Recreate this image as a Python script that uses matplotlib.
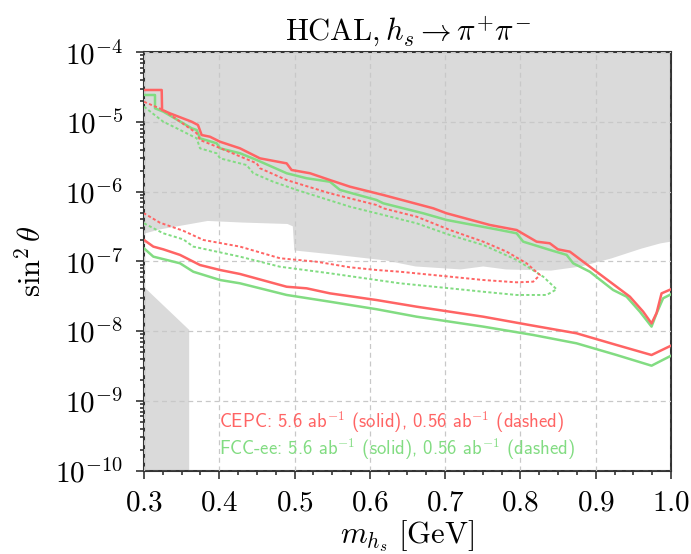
import matplotlib
matplotlib.use("Agg")
import matplotlib.pyplot as plt
from matplotlib.ticker import MultipleLocator, LogLocator, NullFormatter

plt.rcParams['mathtext.fontset'] = 'cm'
plt.rcParams['font.family'] = 'serif'
plt.rcParams['font.serif'] = ['cmr10']
plt.rcParams['axes.formatter.use_mathtext'] = True

RED = '#ff6464'
GREEN = '#82dc82'
GREY = '#dadada'

# excluded regions
excl_top_m = [0.3, 0.32, 0.384, 0.43, 0.49, 0.497, 0.499, 0.55, 0.62, 0.66, 0.72, 0.75,
              0.78, 0.84, 0.88, 0.92, 0.96, 0.985, 1.0]
excl_top_s = [2.55e-7, 2.92e-7, 3.87e-7, 3.67e-7, 3.5e-7, 3.24e-7, 1.46e-7, 1.28e-7, 1.05e-7,
              8.6e-8, 7.8e-8, 8.6e-8, 7.8e-8, 7.5e-8, 8.6e-8, 1.12e-7, 1.55e-7, 1.84e-7, 1.96e-7]
excl_low_m = [0.3, 0.36, 0.36, 0.3]
excl_low_s = [4.3e-8, 1.04e-8, 1e-10, 1e-10]

# CEPC 5.6 ab^-1 (solid), upper and lower edges
cepc_up_m = [0.3, 0.3235, 0.324, 0.3345, 0.3633, 0.3717, 0.3766, 0.3876, 0.401, 0.4275, 0.454,
             0.4895, 0.496, 0.5205, 0.547, 0.5736, 0.6178, 0.6842, 0.702, 0.7595, 0.795, 0.8215,
             0.839, 0.8498, 0.8657, 0.8834, 0.91, 0.9278, 0.9454, 0.9631, 0.9742, 0.9809, 0.9875, 1.0]
cepc_up_s = [2.88e-5, 2.88e-5, 1.49e-5, 1.33e-5, 1.01e-5, 9.06e-6, 6.5e-6, 6.15e-6, 5.21e-6, 4.19e-6,
             3.01e-6, 2.55e-6, 2.05e-6, 1.84e-6, 1.47e-6, 1.18e-6, 8.97e-7, 5.78e-7, 4.9e-7, 3.33e-7,
             2.82e-7, 1.92e-7, 1.82e-7, 1.49e-7, 1.38e-7, 9.9e-8, 6.03e-8, 4.33e-8, 3.12e-8, 1.9e-8,
             1.29e-8, 1.82e-8, 3.48e-8, 3.98e-8]
cepc_lo_m = [0.3, 0.3124, 0.3256, 0.3478, 0.3744, 0.401, 0.4275, 0.4895, 0.516, 0.547, 0.609,
             0.6622, 0.7506, 0.8126, 0.8746, 0.9278, 0.9742, 1.0]
cepc_lo_s = [2.03e-7, 1.63e-7, 1.49e-7, 1.24e-7, 8.87e-8, 7.53e-8, 6.6e-8, 4.33e-8, 4.11e-8, 3.48e-8,
             2.79e-8, 2.24e-8, 1.61e-8, 1.22e-8, 9.3e-9, 6.32e-9, 4.54e-9, 6.18e-9]

# FCC-ee 5.6 ab^-1 (solid)
fcc_up_m = [0.3, 0.3146, 0.3146, 0.3256, 0.3633, 0.37, 0.3744, 0.3965, 0.401, 0.4275, 0.4497,
            0.4895, 0.516, 0.547, 0.5603, 0.609, 0.6178, 0.671, 0.702, 0.7728, 0.795, 0.8037,
            0.8392, 0.8614, 0.8701, 0.8923, 0.9232, 0.941, 0.9587, 0.9742, 0.9809, 0.9896, 1.0]
fcc_up_s = [2.44e-5, 2.44e-5, 1.57e-5, 1.41e-5, 8.13e-6, 7.68e-6, 5.83e-6, 4.95e-6, 4.19e-6, 3.56e-6,
            2.85e-6, 1.84e-6, 1.56e-6, 1.39e-6, 1.06e-6, 7.6e-7, 6.82e-7, 4.9e-7, 3.93e-7, 2.82e-7,
            2.53e-7, 1.92e-7, 1.46e-7, 1.24e-7, 9.4e-8, 7.1e-8, 3.89e-8, 3.12e-8, 1.9e-8, 1.16e-8,
            1.8e-8, 2.96e-8, 3.37e-8]
fcc_lo_m = [0.3, 0.3124, 0.3478, 0.3655, 0.401, 0.4275, 0.4895, 0.547, 0.609, 0.6622, 0.7506,
            0.817, 0.8746, 0.9278, 0.9742, 1.0]
fcc_lo_s = [1.54e-7, 1.17e-7, 9.4e-8, 7.11e-8, 5.41e-8, 4.85e-8, 3.3e-8, 2.64e-8, 2.06e-8, 1.61e-8,
            1.16e-8, 8.8e-9, 6.68e-9, 4.54e-9, 3.19e-9, 4.43e-9]

# CEPC 0.56 ab^-1 (dashed), closed contour
cepc_d_m = [0.3, 0.3256, 0.37, 0.3744, 0.3965, 0.4497, 0.454, 0.4895, 0.547, 0.609, 0.6178, 0.6622,
            0.7064, 0.7506, 0.7817, 0.8082, 0.8259, 0.817, 0.795, 0.7506, 0.7064, 0.64, 0.609,
            0.5736, 0.5293, 0.4806, 0.4275, 0.3788, 0.3522, 0.3212, 0.3]
cepc_d_s = [1.95e-5, 1.49e-5, 6.89e-6, 5.52e-6, 4.43e-6, 2.55e-6, 2.17e-6, 1.47e-6, 9.48e-7, 6.44e-7,
            5.78e-7, 4.38e-7, 2.82e-7, 1.92e-7, 1.38e-7, 9.4e-8, 6.38e-8, 5.12e-8, 5.01e-8, 5.41e-8,
            6.04e-8, 7.11e-8, 7.53e-8, 8.23e-8, 9.9e-8, 1.11e-7, 1.63e-7, 2.03e-7, 2.75e-7, 3.59e-7,
            4.9e-7]

# FCC-ee 0.56 ab^-1 (dashed)
fcc_d_m = [0.3, 0.3256, 0.3434, 0.37, 0.3744, 0.3965, 0.401, 0.4364, 0.4452, 0.4717, 0.5028, 0.5736,
           0.6178, 0.6622, 0.7064, 0.7506, 0.795, 0.8303, 0.8481, 0.8348, 0.795, 0.7506, 0.7064,
           0.64, 0.609, 0.547, 0.4806, 0.4275, 0.3655, 0.3522, 0.3256, 0.3]
fcc_d_s = [1.66e-5, 1.01e-5, 8.13e-6, 5.83e-6, 4.19e-6, 3.56e-6, 3.01e-6, 2.41e-6, 1.84e-6, 1.39e-6,
           1.06e-6, 6.09e-7, 4.64e-7, 3.52e-7, 2.39e-7, 1.72e-7, 1.05e-7, 6.04e-8, 3.98e-8, 3.3e-8,
           3.3e-8, 3.67e-8, 4.11e-8, 4.85e-8, 5.41e-8, 6.75e-8, 8.39e-8, 1.17e-7, 1.63e-7, 2.07e-7,
           2.53e-7, 3.52e-7]

fig = plt.figure(figsize=(6.91, 5.54), dpi=100)
ax = fig.add_axes([0.2084, 0.1507, 0.7626, 0.7549])

ax.fill_between(excl_top_m, excl_top_s, 1e-4, color=GREY, lw=0, zorder=1)
ax.fill(excl_low_m, excl_low_s, color=GREY, lw=0, zorder=1)

ax.plot(cepc_up_m, cepc_up_s, color=RED, lw=1.8, zorder=4)
ax.plot(cepc_lo_m, cepc_lo_s, color=RED, lw=1.8, zorder=4)
ax.plot(fcc_up_m, fcc_up_s, color=GREEN, lw=1.8, zorder=3)
ax.plot(fcc_lo_m, fcc_lo_s, color=GREEN, lw=1.8, zorder=3)
ax.plot(cepc_d_m, cepc_d_s, color=RED, lw=1.4, ls=(0, (1.6, 1.2)), zorder=4)
ax.plot(fcc_d_m, fcc_d_s, color=GREEN, lw=1.4, ls=(0, (1.6, 1.2)), zorder=3)

ax.set_yscale('log')
ax.set_xlim(0.3, 1.0)
ax.set_ylim(1e-10, 1e-4)
ax.xaxis.set_major_locator(MultipleLocator(0.1))
ax.xaxis.set_minor_locator(MultipleLocator(0.025))
ax.yaxis.set_major_locator(LogLocator(base=10, numticks=20))
ax.yaxis.set_minor_locator(LogLocator(base=10, subs=range(2, 10), numticks=100))
ax.yaxis.set_minor_formatter(NullFormatter())
ax.grid(True, which='major', ls=(0, (4, 3)), color='#c8c8c8', lw=0.9, zorder=2)
ax.set_axisbelow(False)
ax.tick_params(which='both', direction='out', labelsize=21, width=1.2, color='#333333')
ax.tick_params(which='major', length=6)
ax.tick_params(which='minor', length=3)
ax.tick_params(axis='y', which='major', pad=9)
ax.tick_params(axis='x', which='major', pad=8)
for s in ax.spines.values():
    s.set_linewidth(1.5)
    s.set_color('#333333')

ax.set_title(r'$\mathrm{HCAL}, h_s \rightarrow \pi^{+}\pi^{-}$', fontsize=22, pad=8)
ax.set_xlabel(r'$m_{h_s}\ [\mathrm{GeV}]$', fontsize=22, labelpad=1)
ax.set_ylabel(r'$\sin^2\theta$', fontsize=22, labelpad=6)

ax.text(0.142, 0.117, r'CEPC: 5.6 ab$^{\mathsf{-1}}$ (solid), 0.56 ab$^{\mathsf{-1}}$ (dashed)',
        transform=ax.transAxes, color=RED, fontsize=13.5, family='cmss10', va='center', zorder=5)
ax.text(0.142, 0.051, r'FCC-ee: 5.6 ab$^{\mathsf{-1}}$ (solid), 0.56 ab$^{\mathsf{-1}}$ (dashed)',
        transform=ax.transAxes, color=GREEN, fontsize=13.5, family='cmss10', va='center', zorder=5)

fig.savefig('out.png', dpi=100)
